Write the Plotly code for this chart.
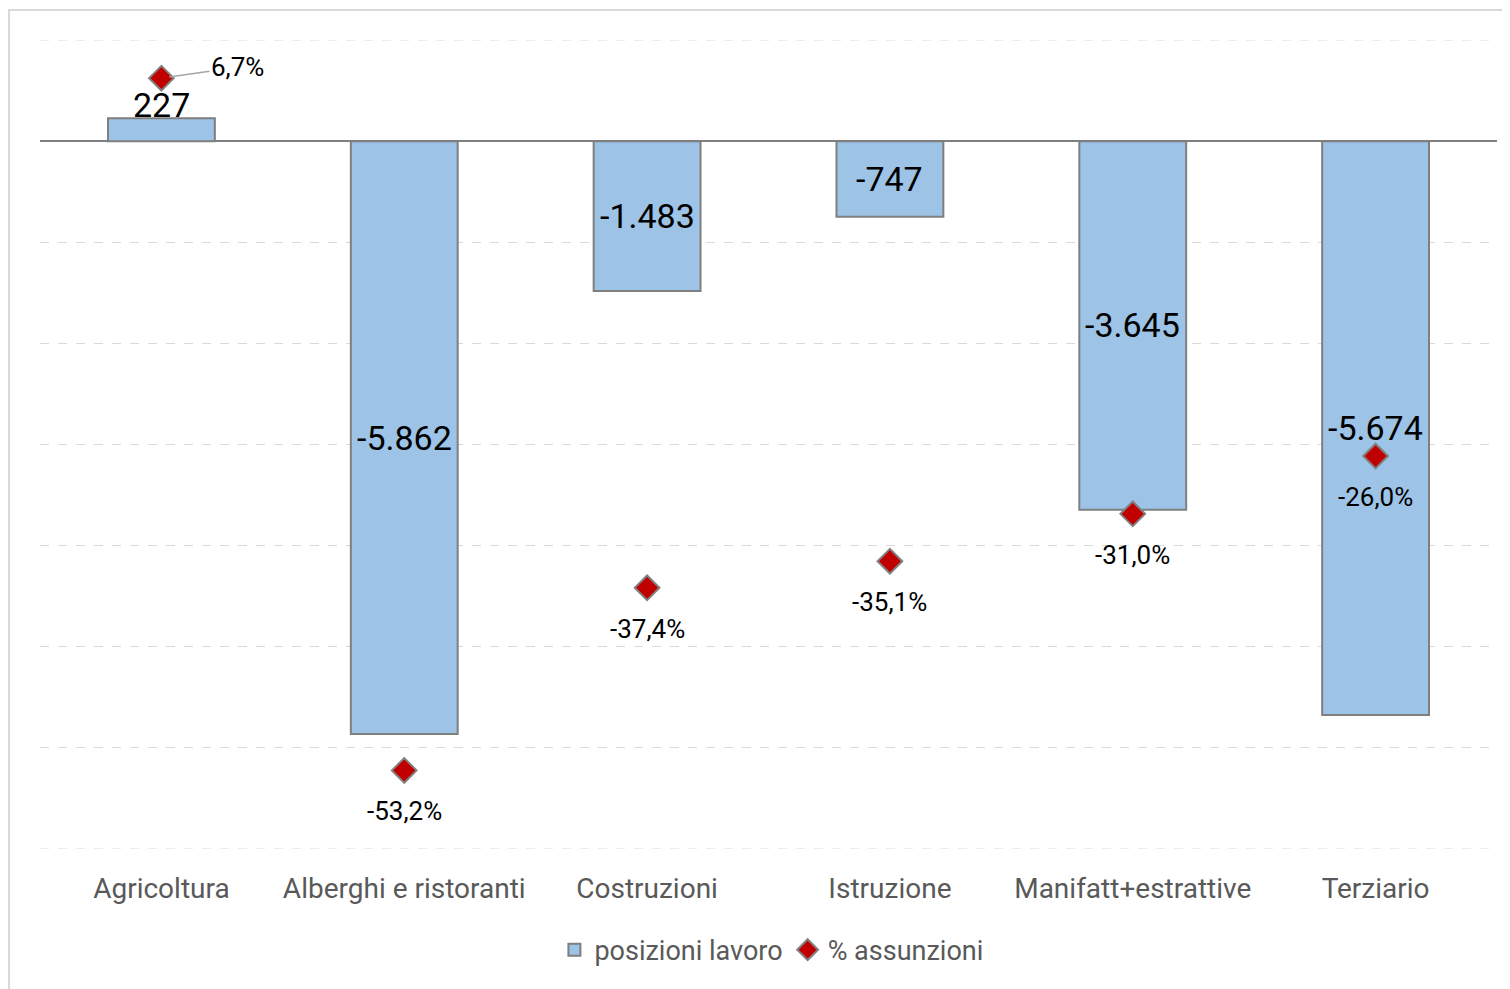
import plotly.graph_objects as go

categories = ["Agricoltura", "Alberghi e ristoranti", "Costruzioni", "Istruzione",
              "Manifatt+estrattive", "Terziario"]
posizioni_lavoro = [227, -5862, -1483, -747, -3645, -5674]
perc_assunzioni = [6.7, -53.2, -37.4, -35.1, -31.0, -26.0]

Y_RANGE = [-7000, 1000]
Y2_RANGE = [-60, 10]

FONT = "Roboto, Arial, sans-serif"

def fmt_int(v):
    return f"{v:,}".replace(",", ".")

def fmt_pct(v):
    return f"{v:.1f}%".replace(".", ",")

fig = go.Figure()

fig.add_trace(go.Bar(
    x=categories, y=posizioni_lavoro, name="posizioni lavoro",
    width=0.44,
    marker=dict(color="#9dc3e6", line=dict(color="#7f7f7f", width=2)),
    hoverinfo="x+y",
))

fig.add_trace(go.Scatter(
    x=categories, y=perc_assunzioni, name="% assunzioni", yaxis="y2",
    mode="markers",
    marker=dict(symbol="diamond", size=19, color="#c00000",
                line=dict(color="#808080", width=2)),
))

annotations = []
# bar value labels
for c, v in zip(categories, posizioni_lavoro):
    annotations.append(dict(
        x=c, y=(v if v > 0 else v / 2), xref="x", yref="y", text=fmt_int(v),
        showarrow=False, yshift=(13 if v > 0 else 0),
        font=dict(family=FONT, size=34, color="#000000"),
    ))
# percentage labels
for c, v in zip(categories, perc_assunzioni):
    if v > 0:
        annotations.append(dict(
            x=c, y=v, xref="x", yref="y2", text=fmt_pct(v),
            showarrow=True, arrowhead=0, arrowwidth=1.5, arrowcolor="#a6a6a6",
            ax=76, ay=-11, standoff=8,
            font=dict(family=FONT, size=26, color="#000000"),
        ))
    else:
        annotations.append(dict(
            x=c, y=v, xref="x", yref="y2", text=fmt_pct(v),
            showarrow=False, yshift=-41,
            font=dict(family=FONT, size=26, color="#000000"),
        ))

# edge gridlines (plotly skips gridlines lying on the plot edges)
shapes = [dict(type="line", xref="paper", yref="y", x0=0, x1=1, y0=yv, y1=yv,
               line=dict(color="#d9d9d9", width=1, dash="dash"), layer="below")
          for yv in Y_RANGE]
shapes.append(dict(type="rect", xref="paper", yref="paper",
                   x0=-0.0213, x1=1.02, y0=-0.19, y1=1.0371,
                   line=dict(color="#d9d9d9", width=2), layer="below"))

fig.update_layout(
    width=1502, height=981,
    margin=dict(l=32, r=13, t=32, b=140),
    paper_bgcolor="white", plot_bgcolor="white",
    font=dict(family=FONT, color="#595959"),
    xaxis=dict(showline=False, ticks="", showgrid=False,
               tickfont=dict(family=FONT, size=28, color="#595959"),
               ticklabelstandoff=20),
    yaxis=dict(range=Y_RANGE, dtick=1000, showticklabels=False,
               showgrid=True, gridcolor="#d9d9d9", griddash="dash", gridwidth=1,
               zeroline=True, zerolinecolor="#808080", zerolinewidth=2,
               showline=False, ticks=""),
    yaxis2=dict(range=Y2_RANGE, overlaying="y", side="right",
                showticklabels=False, showgrid=False, zeroline=False,
                showline=False, ticks=""),
    legend=dict(orientation="h", x=0.502, xanchor="center", y=-0.125, yanchor="middle",
                font=dict(family=FONT, size=27, color="#595959"),
                itemwidth=30, tracegroupgap=0),
    annotations=annotations,
    shapes=shapes,
    showlegend=True,
)

fig.write_html("out.html")
